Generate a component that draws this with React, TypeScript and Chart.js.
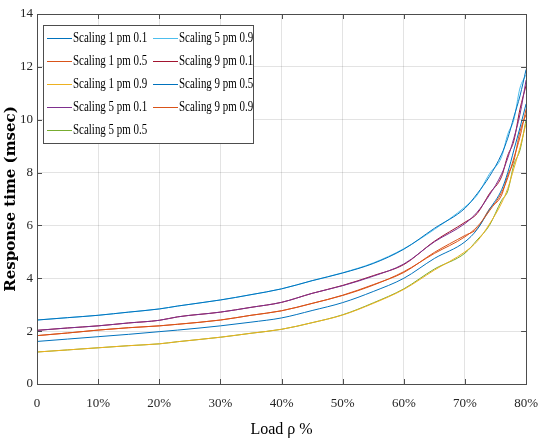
import React, { useEffect, useRef } from "react";
import { Chart, registerables } from "chart.js";

Chart.register(...registerables);

// ---- data ----
const loadPct = [0, 5, 10, 15, 20, 23, 30, 35, 40, 45, 50, 55, 60, 65, 70, 72, 74, 76, 77, 78, 79, 80];

const seriesLabels = [
  "Scaling 1 pm 0.1",
  "Scaling 1 pm 0.5",
  "Scaling 1 pm 0.9",
  "Scaling 5 pm 0.1",
  "Scaling 5 pm 0.5",
  "Scaling 5 pm 0.9",
  "Scaling 9 pm 0.1",
  "Scaling 9 pm 0.5",
  "Scaling 9 pm 0.9",
];

const seriesColors = ["#0072BD", "#D95319", "#EDB120", "#7E2F8E", "#77AC30", "#4DBEEE", "#A2142F", "#0072BD", "#D95319"];

const scaling1pm01 = [2.42, 2.51, 2.60, 2.72, 2.84, 2.95, 3.18, 3.38, 3.60, 3.91, 4.20, 4.56, 5.10, 5.89, 6.65, 7.20, 7.85, 8.70, 9.30, 10.1, 10.9, 11.9];
const scaling1pm05 = [1.83, 1.93, 2.04, 2.13, 2.20, 2.26, 2.42, 2.60, 2.77, 3.05, 3.35, 3.74, 4.25, 4.94, 5.57, 5.95, 6.55, 7.25, 7.80, 8.55, 9.35, 10.4];
const scaling1pm09 = [1.21, 1.29, 1.37, 1.45, 1.52, 1.60, 1.77, 1.92, 2.07, 2.32, 2.61, 3.05, 3.58, 4.31, 5.00, 5.40, 6.05, 6.85, 7.40, 8.15, 8.95, 9.86];
const scaling5pm01 = [2.03, 2.12, 2.20, 2.31, 2.41, 2.54, 2.72, 2.90, 3.09, 3.43, 3.72, 4.08, 4.54, 5.38, 6.07, 6.50, 7.15, 7.95, 8.55, 9.30, 10.2, 11.5];
const scaling5pm05 = [1.21, 1.29, 1.37, 1.45, 1.52, 1.60, 1.77, 1.92, 2.07, 2.32, 2.62, 3.07, 3.60, 4.35, 4.95, 5.45, 6.00, 6.95, 7.30, 8.30, 8.85, 10.0];
const scaling5pm09 = [2.42, 2.51, 2.60, 2.72, 2.84, 2.95, 3.18, 3.38, 3.60, 3.91, 4.21, 4.58, 5.12, 5.85, 6.70, 7.15, 7.95, 8.60, 9.45, 10.0, 11.2, 11.7];
const scaling9pm01 = [2.03, 2.12, 2.20, 2.31, 2.41, 2.54, 2.72, 2.90, 3.09, 3.43, 3.73, 4.10, 4.52, 5.40, 6.12, 6.45, 7.20, 7.85, 8.65, 9.20, 10.4, 11.3];
const scaling9pm05 = [1.61, 1.70, 1.79, 1.88, 1.98, 2.04, 2.20, 2.34, 2.50, 2.78, 3.08, 3.50, 4.00, 4.75, 5.38, 5.85, 6.60, 7.35, 8.00, 8.85, 9.70, 10.6];
const scaling9pm09 = [1.83, 1.93, 2.04, 2.13, 2.20, 2.26, 2.42, 2.60, 2.77, 3.05, 3.36, 3.76, 4.22, 4.98, 5.62, 5.88, 6.62, 7.15, 7.90, 8.45, 9.55, 10.2];

const seriesValues = [
  scaling1pm01, scaling1pm05, scaling1pm09,
  scaling5pm01, scaling5pm05, scaling5pm09,
  scaling9pm01, scaling9pm05, scaling9pm09,
];

const xTicks = [0, 10, 20, 30, 40, 50, 60, 70, 80];
const yTicks = [0, 2, 4, 6, 8, 10, 12, 14];

const SERIF = "'Liberation Serif', 'DejaVu Serif', serif";
const AXIS = "#262626";
const GRID = "rgba(38,38,38,0.13)";

const framePlugin = {
  id: "matlabFrame",
  afterDatasetsDraw(chart: any) {
    const { ctx, chartArea: a, scales } = chart;
    ctx.save();
    ctx.strokeStyle = "#4d4d4d";
    ctx.lineWidth = 1;
    ctx.strokeRect(Math.round(a.left) + 0.5, Math.round(a.top) + 0.5, Math.round(a.right - a.left), Math.round(a.bottom - a.top));
    const tl = 5;
    ctx.beginPath();
    xTicks.forEach((v) => {
      const px = Math.round(scales.x.getPixelForValue(v)) + 0.5;
      ctx.moveTo(px, a.bottom);
      ctx.lineTo(px, a.bottom - tl);
      ctx.moveTo(px, a.top);
      ctx.lineTo(px, a.top + tl);
    });
    yTicks.forEach((v) => {
      const py = Math.round(scales.y.getPixelForValue(v)) + 0.5;
      ctx.moveTo(a.left, py);
      ctx.lineTo(a.left + tl, py);
      ctx.moveTo(a.right, py);
      ctx.lineTo(a.right - tl, py);
    });
    ctx.stroke();
    ctx.restore();
  },
};

const legendPlugin = {
  id: "matlabLegend",
  afterDraw(chart: any) {
    const { ctx, chartArea: a } = chart;
    const ds = chart.data.datasets;
    const x0 = a.left + 6;
    const y0 = a.top + 11;
    const w = 210;
    const h = 118;
    const rows = 5;
    const rowH = 23;
    const colW = 106;
    ctx.save();
    ctx.fillStyle = "#ffffff";
    ctx.fillRect(x0, y0, w, h);
    ctx.strokeStyle = "#4d4d4d";
    ctx.lineWidth = 1;
    ctx.strokeRect(Math.round(x0) + 0.5, Math.round(y0) + 0.5, w, h);
    ds.forEach((d: any, i: number) => {
      const col = Math.floor(i / rows);
      const row = i % rows;
      const lx = x0 + 4 + col * colW;
      const ly = y0 + 13 + row * rowH;
      ctx.strokeStyle = d.borderColor;
      ctx.lineWidth = 1;
      ctx.beginPath();
      ctx.moveTo(lx, ly + 0.5);
      ctx.lineTo(lx + 25, ly + 0.5);
      ctx.stroke();
      ctx.save();
      ctx.translate(lx + 26, ly);
      ctx.scale(0.73, 1);
      ctx.fillStyle = "#000000";
      ctx.font = `15px ${SERIF}`;
      ctx.textBaseline = "middle";
      ctx.textAlign = "left";
      ctx.fillText(d.label, 0, 0);
      ctx.restore();
    });
    ctx.restore();
  },
};

export default function App() {
  const ref = useRef<HTMLCanvasElement | null>(null);

  useEffect(() => {
    document.body.style.margin = "0";
    const canvas = ref.current;
    if (!canvas) return;
    const datasets = seriesLabels.map((label, i) => ({
      label,
      data: loadPct.map((x, j) => ({ x, y: seriesValues[i][j] })),
      borderColor: seriesColors[i],
      backgroundColor: seriesColors[i],
      borderWidth: 1,
      pointRadius: 0,
      fill: false,
      cubicInterpolationMode: "monotone" as const,
    }));
    const chart = new Chart(canvas, {
      type: "line",
      data: { datasets },
      options: {
        animation: false,
        responsive: false,
        maintainAspectRatio: false,
        devicePixelRatio: 1,
        layout: { padding: { top: 14, right: 13, left: 0, bottom: 0 } },
        plugins: { legend: { display: false }, tooltip: { enabled: false } },
        scales: {
          x: {
            type: "linear",
            min: 0,
            max: 80,
            afterFit: (s: any) => {
              s.height = 60;
            },
            afterBuildTicks: (s: any) => {
              s.ticks = xTicks.map((v) => ({ value: v }));
            },
            ticks: {
              callback: (v: any) => (Number(v) === 0 ? "0" : `${v}%`),
              font: { family: SERIF, size: 13 },
              color: AXIS,
              padding: 12,
              maxRotation: 0,
            },
            grid: { color: GRID, drawTicks: false, lineWidth: 1 },
            border: { display: false },
            title: {
              display: true,
              text: "Load ρ %",
              font: { family: SERIF, size: 16 },
              color: "#000000",
              padding: { top: 0, bottom: 5 },
            },
          },
          y: {
            type: "linear",
            min: 0,
            max: 14,
            afterFit: (s: any) => {
              s.width = 37;
            },
            afterBuildTicks: (s: any) => {
              s.ticks = yTicks.map((v) => ({ value: v }));
            },
            ticks: {
              font: { family: SERIF, size: 13 },
              color: AXIS,
              padding: 4,
            },
            grid: { color: GRID, drawTicks: false, lineWidth: 1 },
            border: { display: false },
            title: {
              display: true,
              text: "Response time (msec)",
              font: { family: "'DejaVu Serif', serif", size: 15, weight: "bold" },
              color: "#000000",
              padding: { top: 2, bottom: 0 },
            },
          },
        },
      },
      plugins: [framePlugin, legendPlugin],
    });
    return () => chart.destroy();
  }, []);

  return (
    <div style={{ width: 550, height: 444, background: "#ffffff" }}>
      <canvas ref={ref} width={550} height={444} style={{ display: "block" }} />
    </div>
  );
}
